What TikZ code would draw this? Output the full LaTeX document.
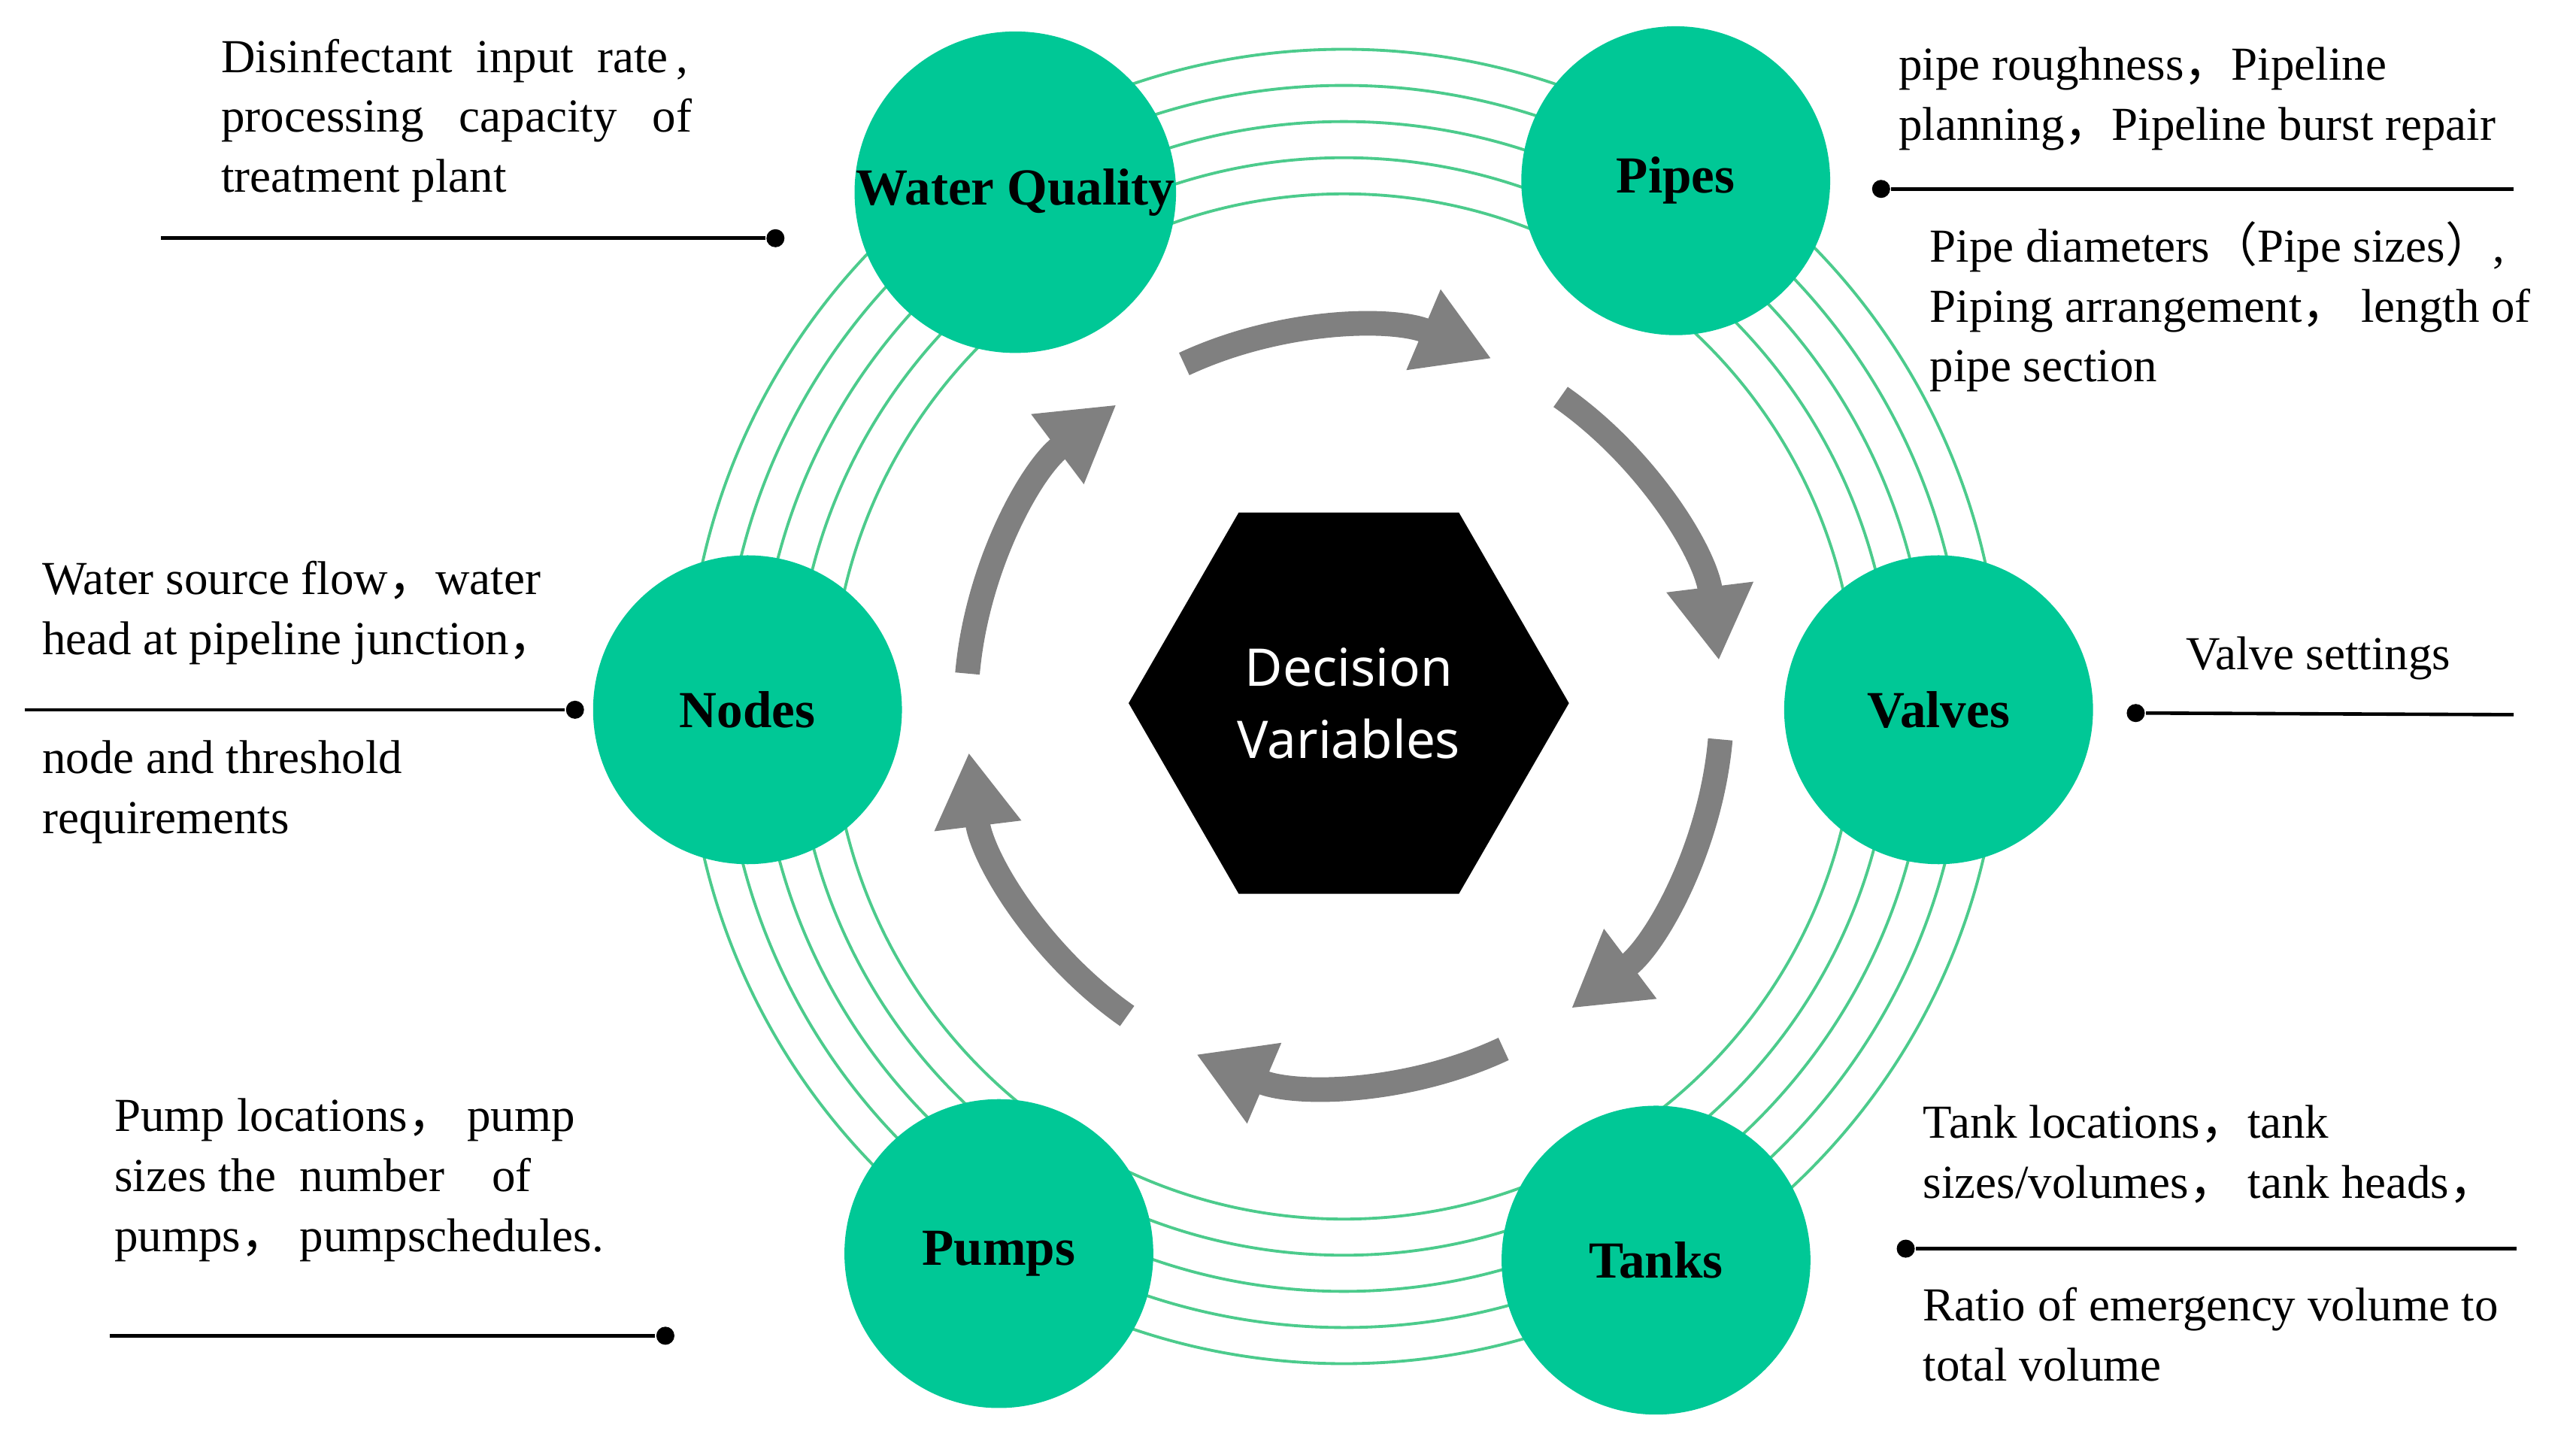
\documentclass[tikz,border=0pt]{standalone}
\usepackage{fontspec}
\setmainfont{Liberation Serif}
\newfontfamily\cjk{Noto Sans CJK SC}
\newfontfamily\hexfont{Noto Sans}
\usetikzlibrary{arrows.meta,calc,shapes.geometric}
\definecolor{teal}{HTML}{00C896}
\definecolor{ringgreen}{HTML}{4CCB8C}
\definecolor{arcgray}{HTML}{808080}
\newcommand{\fc}{{\cjk ，}}
\tikzset{
  var/.style={circle,fill=teal,minimum size=1.88cm,inner sep=0pt,font=\fontsize{9}{11}\selectfont\bfseries},
  lbl/.style={anchor=north west,inner sep=0pt,align=left,font=\fontsize{8.2}{10.4}\selectfont},
  lead/.style={line width=0.6pt},
  dot/.style={circle,fill=black,inner sep=0pt,minimum size=0.11cm},
  arc/.style={arcgray,line width=0.15cm,-{Triangle[length=0.45cm,width=0.5cm]}}
}
\begin{document}
\begin{tikzpicture}[x=1cm,y=1cm]
  \useasboundingbox (0,0) rectangle (15.68,8.78);
  \coordinate (c) at (8.18,4.48);
  % ring
  \foreach \r in {3.12,3.34,3.56,3.78,4.00}
    \draw[ringgreen,line width=0.5pt] (c) circle (\r);
  % arrows
  \foreach \a in {90,30,-30,-90,-150,150}
    \draw[arc] ($(c)+(\a+25:2.3)$) arc (\a+25:\a-23:2.3);
  % centre
  \node[regular polygon,regular polygon sides=6,shape border rotate=0,fill=black,minimum size=2.68cm,inner sep=0pt,
        text=white,align=center,font=\hexfont\fontsize{9}{12.5}\selectfont] (dv) at (8.21,4.50) {Decision\\Variables};
  % variables
  \node[var] (wq) at (6.18,7.61) {Water Quality};
  \node[var] (pipes) at (10.20,7.68) {Pipes};
  \node[var] (valves) at (11.80,4.46) {Valves};
  \node[var] (tanks) at (10.08,1.11) {Tanks};
  \node[var] (pumps) at (6.08,1.15) {Pumps};
  \node[var] (nodes) at (4.55,4.46) {Nodes};
  % leaders
  \node[dot] (dwq) at (4.72,7.33) {};
  \coordinate (ewq) at (0.98,7.33);
  \draw[lead] (dwq) -- (ewq);
  \node[dot] (dpipes) at (11.45,7.63) {};
  \coordinate (epipes) at (15.30,7.63);
  \draw[lead] (dpipes) -- (epipes);
  \node[dot] (dvalves) at (13.00,4.44) {};
  \coordinate (evalves) at (15.30,4.43);
  \draw[lead] (dvalves) -- (evalves);
  \node[dot] (dtanks) at (11.60,1.18) {};
  \coordinate (etanks) at (15.32,1.18);
  \draw[lead] (dtanks) -- (etanks);
  \node[dot] (dpumps) at (4.05,0.65) {};
  \coordinate (epumps) at (0.67,0.65);
  \draw[lead] (dpumps) -- (epumps);
  \node[dot] (dnodes) at (3.50,4.46) {};
  \coordinate (enodes) at (0.15,4.46);
  \draw[lead] (dnodes) -- (enodes);
  % texts
  \node[lbl] (twq) at (1.34,8.55) {Disinfectant\ \ input\ \ rate\,,\\processing\ \ \ capacity\ \ \ of\\treatment plant};
  \node[lbl] (tpipes1) at (11.55,8.50) {pipe roughness\fc Pipeline\\planning\fc Pipeline burst repair};
  \node[lbl] (tpipes2) at (11.74,7.44) {Pipe diameters{\cjk （}Pipe sizes{\cjk ）},\\Piping arrangement\fc\ length of\\pipe section};
  \node[lbl] (tvalves) at (13.30,4.91) {Valve settings};
  \node[lbl] (ttanks1) at (11.70,2.06) {Tank locations\fc tank\\sizes/volumes\fc\ tank heads\fc};
  \node[lbl] (ttanks2) at (11.70,0.95) {Ratio of emergency volume to\\total volume};
  \node[lbl] (tpumps) at (0.69,2.10) {Pump locations\fc\ pump\\sizes the\ \ number\ \ \ \ of\\pumps\fc\ pumpschedules.};
  \node[lbl] (tnodes1) at (0.25,5.37) {Water source flow\fc water\\head at pipeline junction\fc};
  \node[lbl] (tnodes2) at (0.25,4.28) {node and threshold\\requirements};
\end{tikzpicture}
\end{document}
